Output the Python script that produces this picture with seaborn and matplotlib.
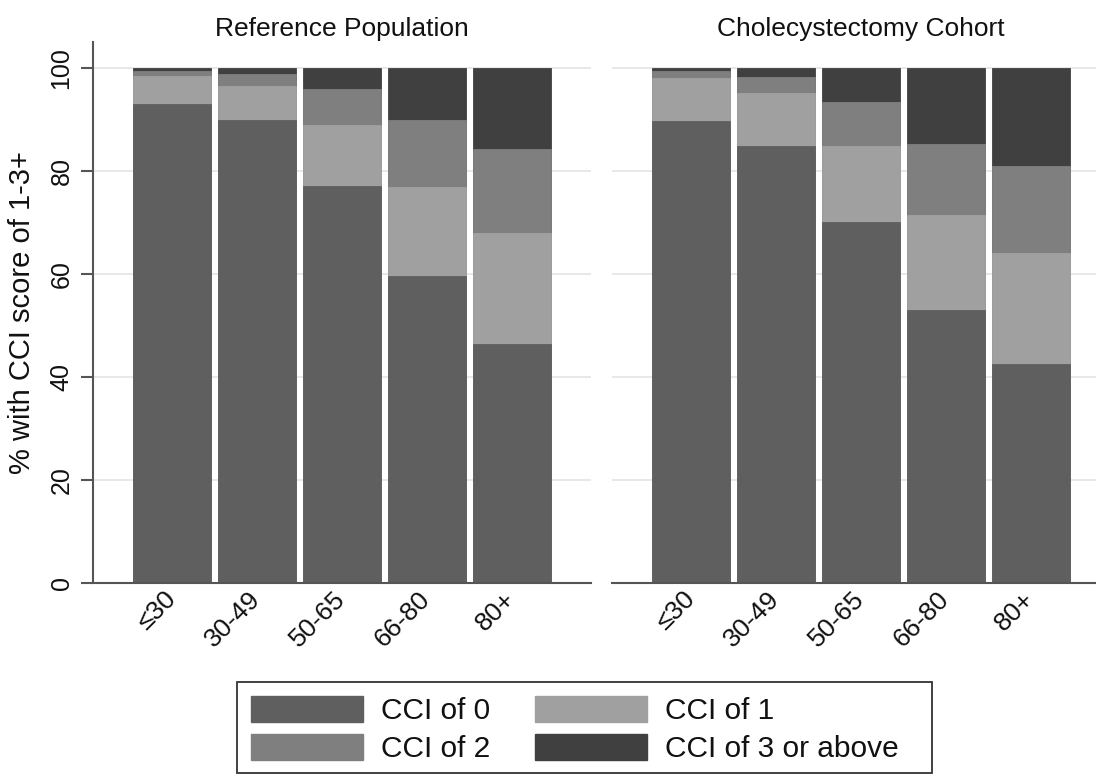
import numpy as np
import seaborn as sns
import matplotlib.pyplot as plt
from matplotlib.patches import Patch, Rectangle

# age groups and panels
age_groups = ['≤30', '30-49', '50-65', '66-80', '80+']
panel_titles = ['Reference Population', 'Cholecystectomy Cohort']
cci_labels = ['CCI of 0', 'CCI of 1', 'CCI of 2', 'CCI of 3 or above']
cci_colors = ['#5f5f5f', '#a0a0a0', '#7f7f7f', '#404040']

# % of each age group by CCI score - reference population
ref_cci0 = [93.0, 89.9, 77.1, 59.6, 46.4]
ref_cci1 = [5.4, 6.5, 11.8, 17.3, 21.6]
ref_cci2 = [0.9, 2.4, 7.0, 13.0, 16.2]
ref_cci3 = [0.7, 1.2, 4.1, 10.1, 15.8]

# % of each age group by CCI score - cholecystectomy cohort
chol_cci0 = [89.7, 84.8, 70.1, 53.0, 42.5]
chol_cci1 = [8.4, 10.3, 14.8, 18.5, 21.6]
chol_cci2 = [1.2, 3.1, 8.5, 13.7, 16.9]
chol_cci3 = [0.7, 1.8, 6.6, 14.8, 19.0]

sns.set_theme(style='white')
plt.rcParams['font.family'] = ['Liberation Sans', 'DejaVu Sans']

fig = plt.figure(figsize=(10.96, 7.76), dpi=100)
W, H = 1096, 776
ax1 = fig.add_axes([93 / W, 1 - 583 / H, 498 / W, 541 / H])
ax2 = fig.add_axes([612 / W, 1 - 583 / H, 498 / W, 541 / H])

panel_data = [
    [ref_cci0, ref_cci1, ref_cci2, ref_cci3],
    [chol_cci0, chol_cci1, chol_cci2, chol_cci3],
]

for ax, title, layers in zip([ax1, ax2], panel_titles, panel_data):
    # stacked bars: draw cumulative totals from the top layer down
    cum = np.cumsum(np.array(layers), axis=0)
    for i in range(3, -1, -1):
        sns.barplot(x=age_groups, y=cum[i], color=cci_colors[i], width=0.92,
                    saturation=1, edgecolor=cci_colors[i], linewidth=0.6, ax=ax)
    ax.set_xlim(-0.93, 4.935)
    ax.set_ylim(0, 105)
    ax.set_yticks([0, 20, 40, 60, 80, 100])
    ax.yaxis.grid(True, color='#e6e6e6', linewidth=1.3)
    ax.set_axisbelow(True)
    ax.set_title(title, fontsize=19, pad=4, color='#111111')
    ax.set_xticks(range(len(age_groups)))
    ax.set_xticklabels(age_groups, rotation=45, ha='right', va='center',
                       rotation_mode='anchor', fontsize=19, color='#111111')
    ax.tick_params(axis='x', length=0, pad=9)
    ax.set_xlabel('')
    for s in ['top', 'right']:
        ax.spines[s].set_visible(False)
    ax.spines['bottom'].set_color('#555555')
    ax.spines['bottom'].set_linewidth(1.5)

ax1.spines['left'].set_color('#555555')
ax1.spines['left'].set_linewidth(1.5)
ax1.tick_params(axis='y', length=9, width=1.5, color='#555555', labelsize=18,
                labelcolor='#111111', pad=5, left=True)
for lab in ax1.get_yticklabels():
    lab.set_rotation(90)
    lab.set_va('center')
ax1.set_ylabel('% with CCI score of 1-3+', fontsize=21, labelpad=10,
               color='#111111')

ax2.spines['left'].set_visible(False)
ax2.tick_params(axis='y', length=0, labelleft=False)
ax2.set_ylabel('')

# legend: two columns, row-wise order CCI 0 | CCI 1 / CCI 2 | CCI 3+
order = [0, 2, 1, 3]
handles = [Patch(facecolor=cci_colors[i], edgecolor=cci_colors[i]) for i in order]
labels = [cci_labels[i] for i in order]
leg = fig.legend(handles, labels, loc='upper left',
                 bbox_to_anchor=(251 / W, 1 - 696 / H),
                 ncol=2, fontsize=21.5, frameon=False,
                 handlelength=3.75, handleheight=0.95, handletextpad=0.6,
                 columnspacing=1.5, labelspacing=0.3, borderpad=0,
                 borderaxespad=0)
for t in leg.get_texts():
    t.set_color('#111111')
# legend box, with the wider right margin of the original
fig.patches.append(Rectangle((237 / W, 1 - 773 / H), 695 / W, 91 / H,
                             transform=fig.transFigure, fill=False,
                             edgecolor='#333333', linewidth=1.3))

plt.savefig('out.png', dpi=100)
